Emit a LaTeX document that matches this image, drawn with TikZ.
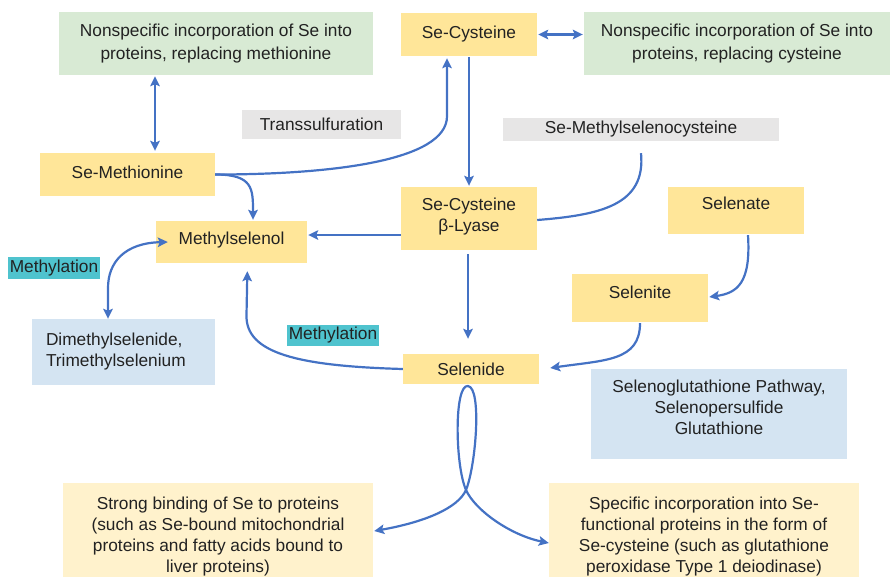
\documentclass[tikz,border=0pt]{standalone}
\usepackage{fontspec}
\setmainfont{Liberation Sans}
\usetikzlibrary{arrows.meta,calc}
\definecolor{ybox}{HTML}{FFE699}
\definecolor{lybox}{HTML}{FFF2CC}
\definecolor{gbox}{HTML}{D8EAD4}
\definecolor{greybox}{HTML}{E7E6E6}
\definecolor{bbox}{HTML}{D4E4F2}
\definecolor{cyanlab}{HTML}{4FC3CE}
\definecolor{arrowblue}{HTML}{4472C4}
\definecolor{txt}{HTML}{222222}
\newcommand\myfs{\fontsize{17.3}{21}\selectfont}
\tikzset{
  box/.style={rectangle, inner sep=0pt, align=center, font=\myfs, text=txt},
  ybx/.style={box, fill=ybox},
  lybx/.style={box, fill=lybox},
  gbx/.style={box, fill=gbox},
  greybx/.style={box, fill=greybox},
  bbx/.style={box, fill=bbox},
  cyl/.style={box, fill=cyanlab},
  up/.style={text depth=#1},
  ln/.style={draw=arrowblue, line width=2.2pt},
  tip/.tip={Stealth[length=10pt,width=9.5pt,inset=2pt]},
  arr/.style={ln, -tip},
  dbl/.style={ln, tip-tip},
}
\begin{document}
\begin{tikzpicture}[x=1pt,y=-1pt]
\useasboundingbox (0,0) rectangle (890,582);
% boxes
\node[gbx, up=4pt, minimum width=314pt, minimum height=63pt] (green1) at (216,43.5)
  {Nonspecific incorporation of Se into\\[2pt]proteins, replacing methionine};
\node[ybx, up=5pt, minimum width=136pt, minimum height=43pt] (secys) at (469,34.5) {Se-Cysteine};
\node[gbx, up=4pt, minimum width=306pt, minimum height=63pt] (green2) at (737,43.5)
  {Nonspecific incorporation of Se into\\[2pt]proteins, replacing cysteine};
\node[greybx, minimum width=159pt, minimum height=29pt] (trans) at (321.5,124.5) {Transsulfuration};
\node[greybx, minimum width=276pt, minimum height=23pt] (msc) at (641,129.5) {Se-Methylselenocysteine};
\node[ybx, up=5pt, minimum width=175pt, minimum height=43pt] (semet) at (127.5,174.5) {Se-Methionine};
\node[ybx, up=8pt, minimum width=151pt, minimum height=42pt] (mse) at (231.5,242) {Methylselenol};
\node[ybx, up=8pt, minimum width=136pt, minimum height=63pt] (lyase) at (469,218.5) {Se-Cysteine\\β-Lyase};
\node[ybx, up=14pt, minimum width=136pt, minimum height=47pt] (selenate) at (736,210.5) {Selenate};
\node[ybx, up=12pt, minimum width=136pt, minimum height=48pt] (selenite) at (640,298) {Selenite};
\node[ybx, minimum width=136pt, minimum height=30pt] (selenide) at (471,369) {Selenide};
\node[bbx, text width=155pt, inner xsep=14pt, align=left, minimum height=66pt] (dms) at (123.5,352)
  {Dimethylselenide,\\Trimethylselenium};
\node[bbx, up=14pt, minimum width=256pt, minimum height=90pt] (sgp) at (719,414)
  {Selenoglutathione Pathway,\\Selenopersulfide\\Glutathione};
\node[cyl, minimum width=92pt, minimum height=22pt] (meth1) at (54,268) {Methylation};
\node[cyl, minimum width=92pt, minimum height=21pt] (meth2) at (333,335.5) {Methylation};
\node[lybx, up=0pt, minimum width=310pt, minimum height=94pt] (bl) at (218,530)
  {\rule{0pt}{21pt}Strong binding of Se to proteins\\(such as Se-bound mitochondrial\\proteins and fatty acids bound to\\liver proteins)};
\node[lybx, up=0pt, minimum width=310pt, minimum height=94pt] (br) at (704,530)
  {\rule{0pt}{21pt}Specific incorporation into Se-\\functional proteins in the form of\\Se-cysteine (such as glutathione\\peroxidase Type 1 deiodinase)};
% connectors
\draw[dbl, shorten <=2pt, shorten >=1pt] ($(semet.north)+(27.5,0)$) -- ($(green1.south)+(-61,0)$);
\draw[dbl, shorten <=1pt, shorten >=1pt] (secys.east) -- (green2.west |- secys.east);
\draw[arr, shorten >=2pt] (semet.east) .. controls +(115,0) and +(0,45) .. ($(secys.south)+(-22,60)$) -- ($(secys.south)+(-22,0)$);
\draw[arr, shorten >=1pt] (semet.east) .. controls +(38,0) and +(0,-32) .. ($(mse.north)+(21.5,0)$);
\draw[arr, shorten <=1pt, shorten >=1pt] (secys.south) -- (lyase.north);
\draw[ln] ($(msc.south)+(0,12)$) .. controls +(5,52) and +(63,-5) .. ($(lyase.east)+(0,1.5)$);
\draw[arr, shorten >=1pt] ($(lyase.west)+(0,16.5)$) -- ($(mse.east)+(0,-7)$);
\draw[arr, shorten <=4pt, shorten >=15pt] ($(lyase.south)+(-1,0)$) -- ($(lyase.south |- selenide.north)+(-1,0)$);
\draw[arr] ($(selenate.south)+(12,1)$) .. controls +(3,48) and +(28,-4) .. ($(selenite.east)+(1,-1)$);
\draw[arr] ($(selenite.south)+(0,1)$) .. controls +(0,38) and +(55,-8) .. ($(selenide.east)+(11,-1)$);
\draw[arr, shorten >=8pt] (selenide.west) .. controls +(-105,-3) and +(-1,38) .. ($(mse.south)+(15,52)$) -- ($(mse.south)+(16,0)$);
\draw[dbl] ($(mse.west)+(12,0)$) .. controls (125,243) and (108,262) .. (108,288) -- ($(dms.north)+(-15.5,0)$);
\draw[dbl] ($(bl.east)+(1,1)$) .. controls (425,522) and (458,508) .. (466,490)
  .. controls (476,465) and (482,388) .. (468,386)
  .. controls (454,384) and (455,465) .. (466,490)
  .. controls (475,510) and (510,535) .. ($(br.west)+(0,13)$);
\end{tikzpicture}
\end{document}
